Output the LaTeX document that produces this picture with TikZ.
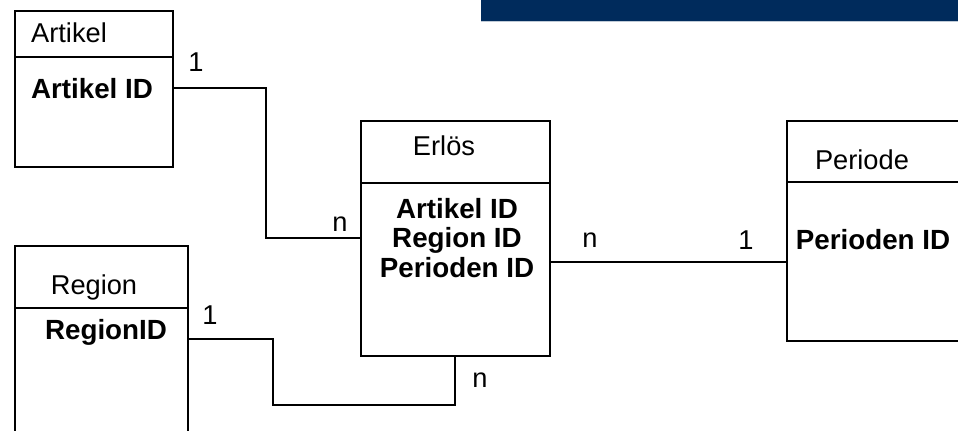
\documentclass[tikz,border=0pt]{standalone}
\usepackage{fontspec}
\setmainfont{Liberation Sans}
\definecolor{balken}{HTML}{002B5C}
\tikzstyle{entity}=[draw,line width=1.1pt,anchor=north west,inner sep=0pt]
\tikzstyle{titel}=[font=\fontsize{15.5}{18}\selectfont,inner sep=0pt]
\tikzstyle{schluessel}=[font=\fontsize{15.8}{17}\selectfont\bfseries,align=center,inner sep=0pt]
\tikzstyle{kante}=[draw,line width=1.1pt,-]

\begin{document}
\begin{tikzpicture}[x=0.02cm,y=-0.02cm]
    \useasboundingbox (0,0) rectangle (958,430);
    \clip (0,0) rectangle (958,430);
    % balken
    \fill[balken] (481,-2) rectangle (960,21);
    \draw[balken!25,line width=0.6pt] (481,21.6) -- (960,21.6);
    % tabellen
    \node[entity,minimum width=3.16cm,minimum height=3.12cm] (artikel) at (14,10) {};
    \node[entity,minimum width=3.78cm,minimum height=4.7cm] (erloes) at (360,120) {};
    \node[entity,minimum width=4cm,minimum height=4.4cm] (periode) at (786,120) {};
    \node[entity,minimum width=3.46cm,minimum height=4cm] (region) at (14,245) {};
    \foreach \tab/\y in {artikel/57, erloes/183, periode/182, region/308}
        \path[kante] (\tab.west |- 0,\y) -- (\tab.east |- 0,\y);
    % namen
    \foreach \pos/\name/\txt in {{(69,33)/tart/Artikel}, {(444,146)/terl/Erlös}, {(862,160)/tper/Periode}, {(94,287)/treg/Region}}
        \node[titel] (\name) at \pos {\txt};
    % schluessel
    \foreach \pos/\name/\txt in {{(92,89)/kart/Artikel ID}, {(873,240)/kper/Perioden ID}, {(106,332)/kreg/RegionID}}
        \node[schluessel] (\name) at \pos {\txt};
    \node[schluessel] (kerl) at (457,238) {Artikel ID\\Region ID\\Perioden ID};
    % beziehungen
    \path[kante] (artikel.east |- 0,88) -| (266,238) -- (erloes.west |- 0,238);
    \path[kante] (erloes.east |- 0,262) -- (periode.west |- 0,262);
    \path[kante] (region.east |- 0,339) -| (273,405) -| (erloes.south);
    % kardinalitaet
    \foreach \pos/\name/\txt in {{(196,62)/c1/1}, {(340,224)/c2/n}, {(590,240)/c3/n}, {(746,240)/c4/1}, {(210,315)/c5/1}, {(480,380)/c6/n}}
        \node[titel] (\name) at \pos {\txt};
\end{tikzpicture}
\end{document}
